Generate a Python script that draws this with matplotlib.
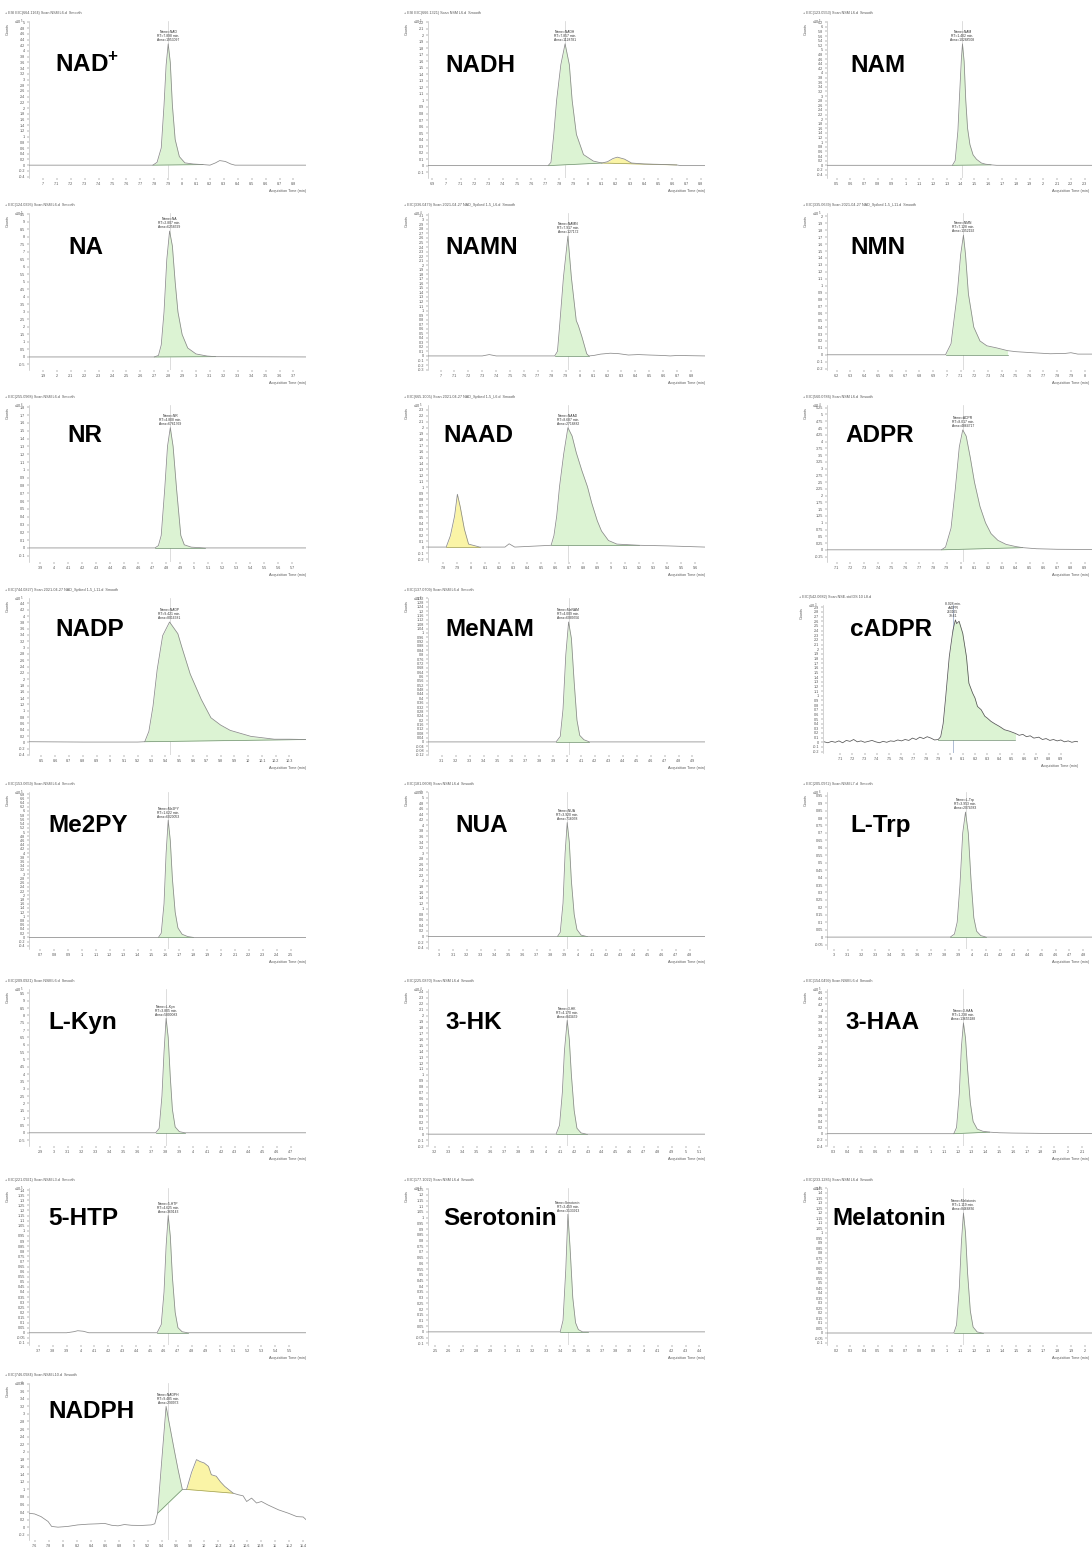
import numpy as np
import matplotlib
matplotlib.use("Agg")
import matplotlib.pyplot as plt

plt.rcParams['font.family'] = ['Liberation Sans', 'DejaVu Sans']
plt.rcParams['mathtext.fontset'] = 'custom'
plt.rcParams['mathtext.rm'] = 'Liberation Sans'
plt.rcParams['mathtext.bf'] = 'Liberation Sans:bold'

W, H = 1092, 1549

# ---- chromatogram traces (time in min, counts in axis units) ----
nad_t = [6.90, 7.50, 7.79, 7.82, 7.85, 7.87, 7.885, 7.90, 7.915, 7.93, 7.95, 7.98, 8.02, 8.08, 8.15, 8.20, 8.24, 8.27, 8.31, 8.35, 8.38, 8.90]
nad_y = [0, 0, 0, 0.1, 0.6, 2.1, 3.5, 4.25, 3.6, 2.1, 0.9, 0.3, 0.08, 0.04, 0.02, 0.0, 0.08, 0.16, 0.13, 0.04, 0.0, 0]

nadh_t = [6.87, 7.72, 7.74, 7.76, 7.78, 7.81, 7.84, 7.87, 7.89, 7.92, 7.97, 8.04, 8.10, 8.14, 8.18, 8.21, 8.26, 8.31, 8.40, 8.50, 8.63, 8.66, 8.83]
nadh_y = [0, 0, 0.05, 0.48, 1.0, 1.55, 1.87, 1.55, 1.0, 0.48, 0.17, 0.07, 0.04, 0.06, 0.11, 0.13, 0.1, 0.04, 0.025, 0.02, 0.01, 0, 0]

nam_t = [0.43, 1.34, 1.36, 1.38, 1.39, 1.405, 1.413, 1.425, 1.437, 1.45, 1.467, 1.49, 1.515, 1.55, 1.58, 1.62, 1.66, 2.44]
nam_y = [0, 0, 0.2, 1.5, 2.8, 4.6, 5.26, 4.5, 2.8, 1.6, 0.9, 0.45, 0.26, 0.1, 0.05, 0.02, 0, 0]

na_t = [1.80, 2.70, 2.73, 2.75, 2.77, 2.79, 2.81, 2.83, 2.85, 2.87, 2.90, 2.94, 3.00, 3.08, 3.14, 3.79]
na_y = [0, 0, 0.1, 0.8, 3.0, 6.5, 8.4, 7.4, 5.0, 3.0, 1.5, 0.6, 0.2, 0.06, 0.02, 0]

namn_t = [6.91, 7.30, 7.35, 7.40, 7.82, 7.84, 7.855, 7.883, 7.915, 7.94, 7.975, 7.99, 8.016, 8.05, 8.065, 8.10, 8.15, 8.22, 8.28, 8.35, 8.42, 8.50, 8.60, 8.65, 8.70, 8.90]
namn_y = [0, 0, 0.03, 0, 0, 0.1, 0.64, 1.73, 2.64, 1.73, 0.78, 0.67, 0.42, 0.05, 0, 0.01, 0.04, 0.06, 0.05, 0.02, 0.03, 0.02, 0.01, 0, 0.01, 0]

nmn_t = [6.13, 6.99, 7.03, 7.075, 7.10, 7.12, 7.135, 7.156, 7.195, 7.24, 7.29, 7.36, 7.44, 7.50, 7.62, 7.75, 7.86, 7.90, 7.95, 8.14]
nmn_y = [0, 0, 0.16, 0.88, 1.45, 1.73, 1.45, 0.88, 0.4, 0.2, 0.13, 0.1, 0.06, 0.045, 0.03, 0.015, 0.02, 0.03, 0.01, 0.01]

nr_t = [3.82, 4.72, 4.745, 4.765, 4.79, 4.81, 4.83, 4.85, 4.875, 4.905, 4.93, 4.98, 5.08, 5.80]
nr_y = [0, 0, 0.03, 0.16, 0.75, 1.3, 1.54, 1.3, 0.75, 0.16, 0.04, 0.01, 0, 0]

naad_t = [7.69, 7.82, 7.85, 7.88, 7.90, 7.92, 7.95, 7.98, 8.06, 8.24, 8.27, 8.31, 8.57, 8.59, 8.61, 8.63, 8.66, 8.69, 8.72, 8.75, 8.79, 8.83, 8.86, 8.90, 8.93, 8.98, 9.04, 9.20, 9.40, 9.67]
naad_y = [0, 0, 0.19, 0.52, 0.885, 0.68, 0.3, 0.05, 0, 0, 0.055, 0, 0.03, 0.19, 0.52, 1.01, 1.56, 2.0, 1.86, 1.58, 1.28, 1.01, 0.74, 0.44, 0.27, 0.11, 0.05, 0.03, 0.02, 0]

adpr_t = [7.03, 7.86, 7.89, 7.93, 7.96, 7.99, 8.015, 8.04, 8.07, 8.10, 8.14, 8.18, 8.22, 8.27, 8.33, 8.40, 8.45, 8.55, 8.70, 9.04]
adpr_y = [0, 0, 0.1, 0.8, 2.2, 3.8, 4.43, 4.2, 3.4, 2.5, 1.6, 1.0, 0.6, 0.35, 0.2, 0.12, 0.08, 0.04, 0.02, 0.01]

nadp_t = [8.41, 8.80, 9.20, 9.25, 9.28, 9.31, 9.34, 9.38, 9.43, 9.49, 9.52, 9.58, 9.66, 9.73, 9.80, 9.87, 10.02, 10.19, 10.30, 10.42]
nadp_y = [0.02, 0.01, 0.01, 0.02, 0.35, 1.15, 2.3, 3.38, 3.81, 3.44, 3.0, 2.16, 1.36, 0.78, 0.55, 0.38, 0.19, 0.10, 0.10, 0.09]

menam_t = [3.00, 3.92, 3.95, 3.97, 3.99, 4.01, 4.03, 4.05, 4.07, 4.09, 4.12, 4.16, 4.99]
menam_y = [0, 0, 0.05, 0.3, 0.8, 1.1, 0.95, 0.55, 0.2, 0.06, 0.02, 0, 0]

cadpr_t = [6.97, 7.00, 7.03, 7.06, 7.09, 7.12, 7.15, 7.18, 7.21, 7.24,
           7.27, 7.30, 7.33, 7.36, 7.39, 7.42, 7.45, 7.48, 7.51, 7.54,
           7.57, 7.60, 7.63, 7.66, 7.69, 7.72, 7.75, 7.78, 7.81, 7.84,
           7.87, 7.90, 7.92, 7.94, 7.96, 7.99, 8.02, 8.04, 8.05, 8.07,
           8.10, 8.13, 8.15, 8.18, 8.20, 8.22, 8.25, 8.28, 8.30, 8.33,
           8.36, 8.40, 8.44, 8.48, 8.51, 8.53, 8.56, 8.59, 8.62, 8.65,
           8.68, 8.72, 8.75, 8.78, 8.81, 8.84, 8.87, 8.90, 8.93, 8.96,
           8.99, 9.02, 9.04]
cadpr_y = [0.01, -0.01, 0.02, 0.00, 0.03, -0.01, 0.04, 0.02, 0.06, 0.01,
           0.03, 0.00, 0.02, 0.04, 0.01, -0.01, 0.02, 0.00, 0.03, 0.02,
           0.05, 0.03, 0.06, 0.04, 0.09, 0.06, 0.11, 0.08, 0.12, 0.09,
           0.05, 0.06, 0.12, 0.40, 0.95, 1.84, 2.41, 2.63, 2.55, 2.60,
           2.34, 1.84, 1.27, 1.06, 0.95, 0.77, 0.70, 0.56, 0.52, 0.45,
           0.40, 0.34, 0.27, 0.24, 0.21, 0.19, 0.15, 0.17, 0.12, 0.14,
           0.09, 0.11, 0.06, 0.08, 0.04, 0.06, 0.03, 0.05, 0.01, 0.03,
           0.00, 0.02, 0.01]

me2py_t = [0.62, 1.55, 1.57, 1.59, 1.605, 1.62, 1.635, 1.65, 1.67, 1.69, 1.72, 1.76, 1.80, 2.61]
me2py_y = [0, 0, 0.2, 1.6, 4.0, 5.56, 4.6, 2.8, 1.2, 0.45, 0.15, 0.04, 0, 0]

nua_t = [2.92, 3.85, 3.87, 3.89, 3.905, 3.92, 3.935, 3.95, 3.97, 3.99, 4.02, 4.06, 4.91]
nua_y = [0, 0, 0.15, 1.2, 3.0, 4.1, 3.4, 2.0, 0.8, 0.25, 0.05, 0, 0]

ltrp_t = [2.95, 3.84, 3.87, 3.89, 3.91, 3.93, 3.95, 3.97, 3.99, 4.01, 4.03, 4.06, 4.10, 4.95]
ltrp_y = [0, 0, 0.02, 0.1, 0.35, 0.7, 0.84, 0.7, 0.38, 0.13, 0.04, 0.01, 0, 0]

lkyn_t = [2.82, 3.73, 3.755, 3.775, 3.79, 3.805, 3.82, 3.835, 3.85, 3.87, 3.90, 3.94, 4.81]
lkyn_y = [0, 0, 0.3, 2.5, 5.5, 7.8, 6.5, 3.8, 1.6, 0.4, 0.08, 0, 0]

hk_t = [3.15, 4.07, 4.095, 4.115, 4.13, 4.15, 4.165, 4.18, 4.20, 4.22, 4.25, 4.29, 5.14]
hk_y = [0, 0, 0.15, 0.7, 1.4, 1.92, 1.6, 1.0, 0.4, 0.1, 0.02, 0, 0]

haa_t = [0.25, 1.17, 1.19, 1.21, 1.225, 1.24, 1.255, 1.27, 1.29, 1.31, 1.34, 1.38, 1.43, 1.50, 1.60, 1.80, 2.26]
haa_y = [0, 0, 0.2, 1.3, 2.8, 3.6, 3.1, 2.1, 1.0, 0.4, 0.15, 0.08, 0.05, 0.03, 0.02, 0.01, 0]

htp_t = [3.63, 3.90, 3.95, 3.98, 4.02, 4.06, 4.55, 4.58, 4.60, 4.615, 4.63, 4.645, 4.66, 4.68, 4.70, 4.73, 4.77, 5.62]
htp_y = [0, 0, 0.01, 0.02, 0.015, 0, 0, 0.08, 0.4, 0.85, 1.15, 0.95, 0.55, 0.2, 0.05, 0.01, 0, 0]

ser_t = [2.45, 3.40, 3.42, 3.44, 3.455, 3.47, 3.49, 3.51, 3.53, 3.56, 3.60, 4.44]
ser_y = [0, 0, 0.1, 0.55, 1.03, 0.75, 0.3, 0.08, 0.02, 0, 0, 0]

mel_t = [0.13, 1.05, 1.07, 1.09, 1.105, 1.12, 1.135, 1.15, 1.17, 1.19, 1.22, 1.26, 2.14]
mel_y = [0, 0, 0.08, 0.45, 0.9, 1.2, 1.0, 0.6, 0.22, 0.06, 0.01, 0, 0]

nadph_t = [7.52, 7.60, 7.69, 7.79, 7.84, 7.93, 8.07, 8.21, 8.36, 8.50,
           8.59, 8.69, 8.78, 8.87, 8.97, 9.11, 9.25, 9.30, 9.34, 9.40,
           9.46, 9.52, 9.58, 9.63, 9.69, 9.75, 9.82, 9.89, 9.94, 10.00,
           10.06, 10.10, 10.17, 10.23, 10.29, 10.41, 10.48, 10.55, 10.60, 10.67,
           10.74, 10.81, 10.90, 11.05, 11.19, 11.31, 11.40, 11.44]
nadph_y = [0.37, 0.35, 0.28, 0.15, 0.02, 0.00, 0.02, 0.06, 0.08, 0.09,
           0.10, 0.05, 0.035, 0.07, 0.05, 0.045, 0.06, 0.09, 0.37, 1.80,
           3.20, 2.60, 2.00, 1.52, 1.00, 1.00, 1.45, 1.79, 1.74, 1.70,
           1.61, 1.39, 1.35, 1.20, 1.08, 0.90, 0.86, 0.83, 0.68, 0.77,
           0.64, 0.68, 0.59, 0.46, 0.37, 0.28, 0.27, 0.20]

# ---- panel annotations ----
names = [r'NAD$^{\mathbf{+}}$', 'NADH', 'NAM', 'NA', 'NAMN', 'NMN', 'NR', 'NAAD', 'ADPR',
         'NADP', 'MeNAM', 'cADPR', 'Me2PY', 'NUA', 'L-Trp', 'L-Kyn', '3-HK', '3-HAA',
         '5-HTP', 'Serotonin', 'Melatonin', 'NADPH']
peak_notes = ["Name=NAD\nRT=7.898 min.\nArea=1953097", "Name=NADH\nRT=7.857 min.\nArea=1128781",
              "Name=NAM\nRT=1.402 min.\nArea=10288508", "Name=NA\nRT=2.807 min.\nArea=6258599",
              "Name=NAMN\nRT=7.917 min.\nArea=127172", "Name=NMN\nRT=7.128 min.\nArea=1352192",
              "Name=NR\nRT=4.808 min.\nArea=6761769", "Name=NAAD\nRT=8.687 min.\nArea=2718882",
              "Name=ADPR\nRT=8.017 min.\nArea=4864717", "Name=NADP\nRT=9.421 min.\nArea=8016381",
              "Name=MeNAM\nRT=4.009 min.\nArea=6089556", "8.028 min.\ncADPR\n263165\n79.61",
              "Name=Me2PY\nRT=1.622 min.\nArea=6020053", "Name=NUA\nRT=3.920 min.\nArea=716058",
              "Name=L-Trp\nRT=3.953 min.\nArea=2074583", "Name=L-Kyn\nRT=3.805 min.\nArea=5800083",
              "Name=3-HK\nRT=4.170 min.\nArea=843459", "Name=3-HAA\nRT=1.238 min.\nArea=13655188",
              "Name=5-HTP\nRT=4.625 min.\nArea=369143", "Name=Serotonin\nRT=3.459 min.\nArea=3133913",
              "Name=Melatonin\nRT=1.119 min.\nArea=8468836", "Name=NADPH\nRT=9.485 min.\nArea=290973"]
headers = ["+ ESI EIC(664.1164) Scan NSM L6.d  Smooth", "+ ESI EIC(666.1321) Scan NSM L6.d  Smooth",
           "+ EIC(123.0553) Scan NSM L6.d  Smooth", "+ EIC(124.0393) Scan NSM L6.d  Smooth",
           "+ EIC(336.0479) Scan 2021-04-27 NAD_Spiked 1-5_L6.d  Smooth",
           "+ EIC(335.0639) Scan 2021-04-27 NAD_Spiked 1-5_L11.d  Smooth",
           "+ EIC(255.0968) Scan NSM L6.d  Smooth",
           "+ EIC(665.1005) Scan 2021-04-27 NAD_Spiked 1-5_L6.d  Smooth",
           "+ EIC(560.0786) Scan NSM L6.d  Smooth",
           "+ EIC(744.0827) Scan 2021-04-27 NAD_Spiked 1-5_L11.d  Smooth",
           "+ EIC(137.0709) Scan NSM L6.d  Smooth", "+ EIC(542.0682) Scan NSE-std DS 10 L8.d",
           "+ EIC(153.0659) Scan NSM L6.d  Smooth", "+ EIC(181.0608) Scan NSM L6.d  Smooth",
           "+ EIC(205.0972) Scan NSM L7.d  Smooth", "+ EIC(209.0921) Scan NSM L6.d  Smooth",
           "+ EIC(225.0870) Scan NSM L6.d  Smooth", "+ EIC(154.0499) Scan NSM L6.d  Smooth",
           "+ EIC(221.0921) Scan NSM L3.d  Smooth", "+ EIC(177.1022) Scan NSM L6.d  Smooth",
           "+ EIC(233.1285) Scan NSM L6.d  Smooth", "+ EIC(746.0984) Scan NSM L10.d  Smooth"]
exponents = [5, 5, 5, 5, 4, 5, 6, 5, 4, 5, 6, 3, 5, 4, 6, 5, 4, 5, 5, 6, 6, 4]
rts = [7.90, 7.84, 1.413, 2.81, 7.915, 7.12, 4.83, 8.69, 8.015, 9.43, 4.01, 8.02,
       1.62, 3.92, 3.95, 3.805, 4.15, 1.24, 4.63, 3.455, 1.12, 9.485]

# axis settings: xlim, first/last x tick, x step, ylim, y step
xlims = [(6.90, 8.89), (6.87, 8.83), (0.43, 2.44), (1.80, 3.79), (6.91, 8.90), (6.13, 8.14),
         (3.82, 5.80), (7.69, 9.67), (7.03, 9.04), (8.41, 10.42), (3.00, 4.99), (6.96, 9.04),
         (0.62, 2.61), (2.92, 4.91), (2.95, 4.95), (2.82, 4.81), (3.15, 5.14), (0.25, 2.26),
         (3.63, 5.62), (2.45, 4.44), (0.13, 2.14), (7.52, 11.44)]
xtick_span = [(7.0, 8.8), (6.9, 8.8), (0.5, 2.3), (1.9, 3.7), (7.0, 8.8), (6.2, 8.0),
              (3.9, 5.7), (7.8, 9.6), (7.1, 8.9), (8.5, 10.3), (3.1, 4.9), (7.1, 8.9),
              (0.7, 2.5), (3.0, 4.8), (3.0, 4.8), (2.9, 4.7), (3.2, 5.1), (0.3, 2.1),
              (3.7, 5.5), (2.5, 4.4), (0.2, 2.0), (7.6, 11.4)]
xsteps = [0.1] * 21 + [0.2]
ylims = [(-0.45, 5.05), (-0.19, 2.22), (-0.55, 6.25), (-0.87, 9.6), (-0.31, 3.15), (-0.22, 2.05),
         (-0.18, 1.83), (-0.25, 2.38), (-0.45, 5.35), (-0.40, 4.57), (-0.12, 1.32), (-0.23, 2.95),
         (-0.55, 6.9), (-0.45, 5.2), (-0.08, 0.975), (-0.9, 9.8), (-0.2, 2.45), (-0.4, 4.7),
         (-0.12, 1.42), (-0.115, 1.26), (-0.12, 1.45), (-0.34, 3.82)]
ysteps = [0.2, 0.1, 0.2, 0.5, 0.1, 0.1, 0.1, 0.1, 0.25, 0.2, 0.04, 0.1,
          0.2, 0.2, 0.05, 0.5, 0.1, 0.2, 0.05, 0.05, 0.05, 0.2]

traces = [(nad_t, nad_y), (nadh_t, nadh_y), (nam_t, nam_y), (na_t, na_y), (namn_t, namn_y),
          (nmn_t, nmn_y), (nr_t, nr_y), (naad_t, naad_y), (adpr_t, adpr_y), (nadp_t, nadp_y),
          (menam_t, menam_y), (cadpr_t, cadpr_y), (me2py_t, me2py_y), (nua_t, nua_y),
          (ltrp_t, ltrp_y), (lkyn_t, lkyn_y), (hk_t, hk_y), (haa_t, haa_y), (htp_t, htp_y),
          (ser_t, ser_y), (mel_t, mel_y), (nadph_t, nadph_y)]

# integrated regions (start, end, baseline at start, baseline at end); None -> on the trace
green_regions = [(7.79, 8.15, None, None), (7.72, 8.10, None, None), (1.34, 1.62, None, None),
                 (2.70, 3.14, None, None), (7.82, 8.065, None, None), (6.99, 7.44, 0.0, 0.0),
                 (4.72, 5.08, None, None), (8.57, 9.20, None, None), (7.86, 8.45, None, None),
                 (9.25, 10.42, None, None), (3.92, 4.16, None, None), (7.90, 8.53, 0.06, 0.06),
                 (1.55, 1.80, None, None), (3.85, 4.06, None, None), (3.84, 4.10, None, None),
                 (3.73, 3.94, None, None), (4.07, 4.29, None, None), (1.17, 1.43, None, None),
                 (4.55, 4.77, None, None), (3.40, 3.60, None, None), (1.05, 1.26, None, None),
                 (9.34, 9.69, None, None)]
yellow_regions = {1: (8.10, 8.63, None, None), 7: (7.82, 8.06, None, None),
                  21: (9.75, 10.41, None, None)}

# ---- layout (pixels) ----
col_left = [29, 428, 827]
row_top = [21, 213, 405, 598, 792, 989, 1188, 1383]
ax_w, ax_h = 277, 157
label_x = [55, 445, 850, 68, 445, 850, 67, 443, 845, 55, 445, 850,
           48, 455, 850, 48, 445, 845, 48, 443, 832, 48]
label_y = [63, 245, 433, 627, 823, 1020, 1216, 1409]

LINE = '#8a8a8a'
GREEN = '#dcf3d3'
GREEN_EDGE = '#6f8f6f'
YELLOW = '#faf4a6'
YELLOW_EDGE = '#9c9c55'
SMALL = 2.7

fig = plt.figure(figsize=(W / 100, H / 100), dpi=100)
fig.patch.set_facecolor('white')


def fill_region(ax, t, y, reg, face, edge):
    t0, t1, b0, b1 = reg
    t = np.asarray(t, float)
    y = np.asarray(y, float)
    if b0 is None:
        b0 = np.interp(t0, t, y)
    if b1 is None:
        b1 = np.interp(t1, t, y)
    m = (t >= t0 - 1e-9) & (t <= t1 + 1e-9)
    base = b0 + (t[m] - t0) * (b1 - b0) / (t1 - t0)
    ax.fill_between(t[m], base, y[m], color=face, lw=0, zorder=2)
    ax.plot([t0, t1], [b0, b1], color=edge, lw=0.5, zorder=3)


for i in range(len(names)):
    r, c = i // 3, i % 3
    left, top, w, h = col_left[c], row_top[r], ax_w, ax_h
    if i == 11:  # cADPR panel is drawn a little narrower / shorter
        left, top, w, h = 823, 605, 255, 148
    ax = fig.add_axes([left / W, 1 - (top + h) / H, w / W, h / H])
    t, y = traces[i]

    ax.axvline(rts[i], color='#8fa3c4' if i == 11 else '#cfcfcf', lw=0.5, zorder=1)
    fill_region(ax, t, y, green_regions[i], GREEN, GREEN_EDGE)
    if i in yellow_regions:
        fill_region(ax, t, y, yellow_regions[i], YELLOW, YELLOW_EDGE)
    ax.plot(t, y, color='#555555' if i == 11 else LINE, lw=0.55, zorder=4)

    ax.set_xlim(*xlims[i])
    ax.set_ylim(*ylims[i])
    x0, x1 = xtick_span[i]
    xt = np.arange(x0, x1 + xsteps[i] / 2, xsteps[i])
    ax.set_xticks(xt)
    ax.set_xticklabels([f'{v:g}' for v in np.round(xt, 3)])
    ys = ysteps[i]
    yt = np.arange(np.ceil(ylims[i][0] / ys) * ys, ylims[i][1] + 1e-9, ys)
    ax.set_yticks(yt)
    ax.set_yticklabels([f'{v + 0.0:g}' for v in np.round(yt, 3)])
    ax.tick_params(labelsize=SMALL, length=1.5, width=0.3, pad=1.2,
                   colors='#555555')
    for s in ['top', 'right', 'bottom']:
        ax.spines[s].set_visible(False)
    ax.spines['left'].set_color('#b0b0b0')
    ax.spines['left'].set_linewidth(0.4)
    ax.patch.set_alpha(0)

    ax.annotate(peak_notes[i], (rts[i], max(y)), xytext=(0, 1.2),
                textcoords='offset points', ha='center', va='bottom',
                fontsize=SMALL * 0.9, color='#333333', linespacing=1.0, zorder=5)

    # small header texts around the axes
    fig.text((left - 24) / W, 1 - (top - 8) / H, headers[i], fontsize=SMALL,
             color='#555555', va='center', ha='left')
    fig.text((left - 15) / W, 1 - (top + 1) / H, r'x10$^{%d}$' % exponents[i],
             fontsize=SMALL, color='#555555', va='center', ha='left')
    fig.text((left - 21) / W, 1 - (top + 8) / H, 'Counts', fontsize=SMALL,
             color='#555555', rotation=90, va='center', ha='center')
    x_lab = min(left + w, W - 3)
    fig.text(x_lab / W, 1 - (top + h + 13) / H, 'Acquisition Time (min)',
             fontsize=SMALL, color='#555555', va='center', ha='right')

    # compound name
    fig.text(label_x[i] / W, 1 - (label_y[r] + 9) / H, names[i], fontsize=17.5,
             fontweight='bold', color='black', ha='left', va='baseline')

fig.savefig('out.png', dpi=100, facecolor='white')
